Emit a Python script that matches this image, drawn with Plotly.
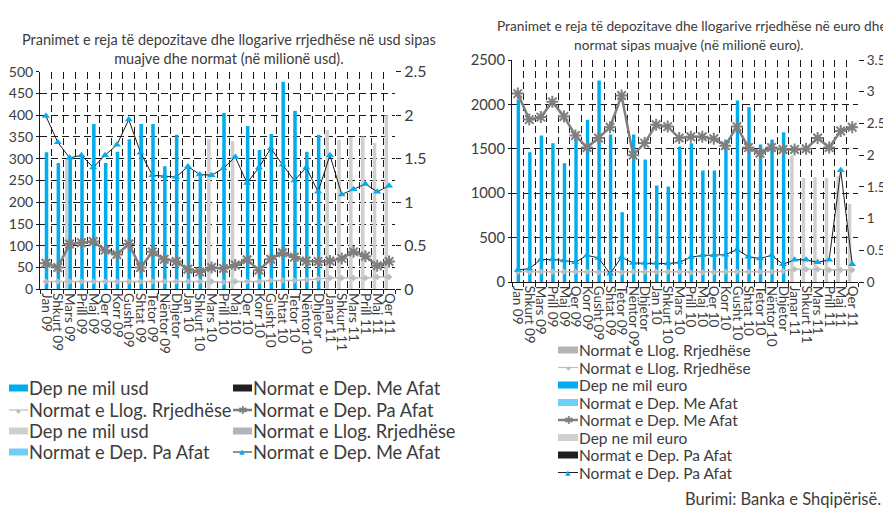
import plotly.graph_objects as go

# ---------------- data ----------------
cats = ["Jan 09", "Shkurt 09", "Mars 09", "Prill 09", "Maj 09", "Qer 09", "Korr 09", "Gusht 09",
        "Shtat 09", "Tetor 09", "Nëntor 09", "Dhjetor", "Jan 10", "Shkurt 10", "Mars 10", "Prill 10",
        "Maj 10", "Qer 10", "Korr 10", "Gusht 10", "Shtat 10", "Tetor 10", "Nëntor 10", "Dhjetor ",
        "Janar 11", "Shkurt 11", "Mars 11", "Prill 11", "Maj 11", "Qer 11"]

# USD chart (left)
usd_dep_blue = [315, 290, 303, 306, 380, 290, 316, 345, 380, 380, 283, 355, 280, 260, None, 405,
                None, 375, 320, 357, 477, 410, 316, 355, None, None, None, None, None, None]
usd_dep_gray = [None, None, 299, None, None, None, None, None, None, None, None, None, None, None, 345, None,
                340, None, None, None, None, None, None, None, 366, 343, 350, 351, 336, 400]
usd_me_afat = [1.99, 1.69, 1.51, 1.54, 1.40, 1.54, 1.66, 1.95, 1.57, 1.31, 1.30, 1.29, 1.41, 1.32, 1.31, 1.39,
               1.52, 1.22, 1.40, 1.62, 1.43, 1.25, 1.40, 1.12, 1.54, 1.09, 1.15, 1.21, 1.12, 1.19]
usd_pa_afat = [0.30, 0.25, 0.52, 0.535, 0.55, 0.45, 0.40, 0.52, 0.25, 0.43, 0.345, 0.32, 0.23, 0.20, 0.25, 0.24,
               0.28, 0.34, 0.22, 0.345, 0.42, 0.37, 0.325, 0.32, 0.325, 0.355, 0.43, 0.38, 0.27, 0.32]
usd_llog = [0.09, 0.09, 0.09, 0.09, 0.09, 0.09, 0.09, 0.09, 0.09, 0.09, 0.09, 0.09, 0.09, 0.09, 0.09, 0.08,
            0.09, 0.09, 0.09, 0.10, 0.10, 0.10, 0.11, 0.12, 0.13, 0.13, 0.13, 0.13, 0.14, 0.14]

# EUR chart (right)
eur_dep_blue = [2052, 1462, 1650, 1563, 1338, 1612, 1826, 2269, 1661, 786, 1661, 1379, 1087, 1075, 1526, 1563,
                1255, 1255, 1601, 2044, 1969, 1548, 1604, 1687, None, None, None, None, None, None]
eur_dep_gray = [None, None, None, None, None, None, None, None, None, None, None, None, None, None, None, None,
                None, None, None, None, None, None, None, None, 1424, 1173, 1180, 1173, 1190, 880]
eur_me_afat = [2.97, 2.56, 2.60, 2.84, 2.61, 2.31, 2.12, 2.27, 2.44, 2.94, 2.00, 2.19, 2.48, 2.45, 2.27, 2.29,
               2.29, 2.26, 2.15, 2.45, 2.12, 2.03, 2.12, 2.09, 2.09, 2.10, 2.27, 2.12, 2.38, 2.44]
eur_pa_afat = [0.19, 0.21, 0.355, 0.355, 0.34, 0.31, 0.42, 0.38, 0.13, 0.39, 0.30, 0.30, 0.30, 0.29, 0.31, 0.39,
               0.42, 0.42, 0.43, 0.51, 0.40, 0.37, 0.42, 0.28, 0.35, 0.35, 0.31, 0.35, 1.76, 0.28]
eur_llog = [0.16, 0.16, 0.16, 0.16, 0.16, 0.16, 0.16, 0.15, 0.15, 0.15, 0.16, 0.16, 0.16, 0.16, 0.16, 0.15,
            0.15, 0.15, 0.16, 0.16, 0.16, 0.16, 0.16, 0.17, 0.20, 0.20, 0.20, 0.19, 0.19, 0.19]

left_title = "Pranimet e reja të depozitave dhe llogarive rrjedhëse në usd sipas<br>muajve dhe normat (në milionë usd)."
right_title_1 = "Pranimet e reja të depozitave dhe llogarive rrjedhëse në euro dhe"
right_title_2 = "normat sipas muajve (në milionë euro)."
source_text = "Burimi: Banka e Shqipërisë."

left_legend = [  # (column, row, kind, label)
    (0, 0, "blue_rect", "Dep ne mil usd"),
    (0, 1, "llog_line", "Normat e Llog. Rrjedhëse"),
    (0, 2, "lgray_rect", "Dep ne mil usd"),
    (0, 3, "lblue_rect", "Normat e Dep. Pa Afat"),
    (1, 0, "black_rect", "Normat e Dep. Me Afat"),
    (1, 1, "star_line", "Normat e Dep. Pa Afat"),
    (1, 2, "gray_rect", "Normat e Llog. Rrjedhëse"),
    (1, 3, "tri_line", "Normat e Dep. Me Afat"),
]
right_legend = [
    ("gray_rect", "Normat e Llog. Rrjedhëse"),
    ("llog_line", "Normat e Llog. Rrjedhëse"),
    ("blue_rect", "Dep ne mil euro"),
    ("lblue_rect", "Normat e Dep. Me Afat"),
    ("star_line", "Normat e Dep. Me Afat"),
    ("lgray_rect", "Dep ne mil euro"),
    ("black_rect", "Normat e Dep. Pa Afat"),
    ("tri_line", "Normat e Dep. Pa Afat"),
]

# ---------------- style ----------------
# The page body has an 8px default margin, so the figure is sized to fit inside it
OFF = 8
W, H = 891 - OFF, 513 - OFF
FONT = "Lato"
TXT = "#3c3c3c"
BLUE = "#00aeef"
LBLUE = "#6dcff6"
LGRAY = "#cfcfcf"
GRAY_BAR = "#b4b4b8"
STAR = "#7f7f7f"
BLACK = "#231f20"
LLOG = "#bdbdbd"
GRID = "#1a1a1a"
DASH = "7px,4px"


def px(x):
    return (x - OFF) / W


def py(y):
    return 1 - (y - OFF) / H


fig = go.Figure()


def add_chart(xa, ya, ya2, blue, gray, me, pa, llog, star_is_me):
    fig.add_trace(go.Bar(x=cats, y=gray, xaxis=xa, yaxis=ya, marker=dict(color=LGRAY, line=dict(width=0)),
                         width=0.3, offset=-0.38, showlegend=False))
    fig.add_trace(go.Bar(x=cats, y=blue, xaxis=xa, yaxis=ya, marker=dict(color=BLUE, line=dict(width=0)),
                         width=0.3, offset=-0.1, showlegend=False))
    fig.add_trace(go.Scatter(x=cats, y=llog, xaxis=xa, yaxis=ya2, mode="lines+markers",
                             line=dict(color=LLOG, width=1.5),
                             marker=dict(symbol="diamond", size=5, color=LLOG), showlegend=False))
    star_vals, tri_vals = (me, pa) if star_is_me else (pa, me)
    fig.add_trace(go.Scatter(x=cats, y=star_vals, xaxis=xa, yaxis=ya2, mode="lines+markers",
                             line=dict(color=STAR, width=2.5),
                             marker=dict(symbol="asterisk-open", size=10, color=STAR, line=dict(width=2, color=STAR)),
                             showlegend=False))
    fig.add_trace(go.Scatter(x=cats, y=tri_vals, xaxis=xa, yaxis=ya2, mode="lines+markers",
                             line=dict(color=BLACK, width=1),
                             marker=dict(symbol="triangle-up", size=7, color=BLUE), showlegend=False))


add_chart("x", "y", "y2", usd_dep_blue, usd_dep_gray, usd_me_afat, usd_pa_afat, usd_llog, star_is_me=False)
add_chart("x3", "y3", "y4", eur_dep_blue, eur_dep_gray, eur_me_afat, eur_pa_afat, eur_llog, star_is_me=True)

xcommon = dict(type="category", tickson="boundaries", tickmode="linear", tick0=0, dtick=1,
               range=[-0.5, 29.5], showgrid=True, gridcolor=GRID, griddash=DASH, gridwidth=1,
               showline=True, linecolor=GRID, linewidth=1, ticks="outside", ticklen=4, tickcolor=GRID,
               tickangle=90, tickfont=dict(family=FONT, size=13.5, color=TXT), fixedrange=True,
               automargin=False)
ycommon = dict(showgrid=True, gridcolor=GRID, griddash=DASH, gridwidth=1, showline=True, linecolor=GRID,
               ticks="outside", ticklen=3, tickcolor=GRID, zeroline=False, fixedrange=True, automargin=False)
y2common = dict(showgrid=False, showline=False, ticks="outside", ticklen=5, tickcolor=GRID, zeroline=False,
                side="right", fixedrange=True, automargin=False)

fig.update_layout(
    width=W, height=H, autosize=False,
    margin=dict(l=0, r=0, t=0, b=0, pad=0),
    paper_bgcolor="white", plot_bgcolor="rgba(0,0,0,0)",
    barmode="overlay", showlegend=False,
    font=dict(family=FONT, color=TXT),
    xaxis=dict(xcommon, domain=[px(40), px(395)], anchor="y"),
    yaxis=dict(ycommon, domain=[py(289.3), py(71.7)], range=[0, 500], dtick=50, anchor="x",
               tickfont=dict(family=FONT, size=14, color=TXT)),
    yaxis2=dict(y2common, overlaying="y", anchor="x", range=[0, 2.5], dtick=0.5,
                tickfont=dict(family=FONT, size=16, color=TXT)),
    xaxis3=dict(xcommon, domain=[px(512), px(858)], anchor="y3"),
    yaxis3=dict(ycommon, domain=[py(282), py(60)], range=[0, 2500], dtick=500, anchor="x3",
                tickfont=dict(family=FONT, size=14.8, color=TXT)),
    yaxis4=dict(y2common, overlaying="y3", anchor="x3", range=[0, 3.5], dtick=0.5,
                tickfont=dict(family=FONT, size=13.5, color=TXT)),
)

shapes = []
annots = []

# titles and source
annots.append(dict(text=left_title, x=px(229), y=py(49), xref="paper", yref="paper", showarrow=False,
                   xanchor="center", yanchor="middle", align="center",
                   font=dict(family=FONT, size=14.5, color=TXT)))
annots.append(dict(text=right_title_1, x=px(692), y=py(25), xref="paper", yref="paper", showarrow=False,
                   xanchor="center", yanchor="middle", font=dict(family=FONT, size=13.7, color=TXT)))
annots.append(dict(text=right_title_2, x=px(688), y=py(45), xref="paper", yref="paper", showarrow=False,
                   xanchor="center", yanchor="middle", font=dict(family=FONT, size=13.7, color=TXT)))
annots.append(dict(text=source_text, x=px(883), y=py(499), xref="paper", yref="paper", showarrow=False,
                   xanchor="right", yanchor="middle", font=dict(family=FONT, size=16.5, color=TXT)))


def legend_item(kind, label, x0, yc, sw, fsize):
    rect_colors = {"blue_rect": BLUE, "lblue_rect": LBLUE, "lgray_rect": LGRAY,
                   "gray_rect": GRAY_BAR, "black_rect": BLACK}
    if kind in rect_colors:
        shapes.append(dict(type="rect", xref="paper", yref="paper", x0=px(x0), x1=px(x0 + sw),
                           y0=py(yc + 3.5), y1=py(yc - 3.5), fillcolor=rect_colors[kind], line=dict(width=0)))
    else:
        col, wid, sym, scol, ssize = {
            "llog_line": (LLOG, 1.2, "◆", LLOG, 6),
            "star_line": (STAR, 2.5, "✱", STAR, 11),
            "tri_line": (BLACK, 1, "▲", BLUE, 7),
        }[kind]
        shapes.append(dict(type="line", xref="paper", yref="paper", x0=px(x0), x1=px(x0 + sw),
                           y0=py(yc), y1=py(yc), line=dict(color=col, width=wid)))
        annots.append(dict(text=sym, x=px(x0 + sw / 2), y=py(yc), xref="paper", yref="paper", showarrow=False,
                           xanchor="center", yanchor="middle", font=dict(family="DejaVu Sans", size=ssize, color=scol)))
    annots.append(dict(text=label, x=px(x0 + sw - 1), y=py(yc), xref="paper", yref="paper", showarrow=False,
                       xanchor="left", yanchor="middle", font=dict(family=FONT, size=fsize, color=TXT)))


left_rows = [388, 410, 431, 452]
left_cols = [9, 233]
for c, r, kind, label in left_legend:
    legend_item(kind, label, left_cols[c], left_rows[r], 19, 18.3)

right_rows = [350, 367.5, 385, 402.5, 420, 437.5, 455, 472.5]
for (kind, label), yc in zip(right_legend, right_rows):
    legend_item(kind, label, 558, yc, 20, 15.5)

fig.update_layout(shapes=shapes, annotations=annots)

fig.write_html("out.html")
